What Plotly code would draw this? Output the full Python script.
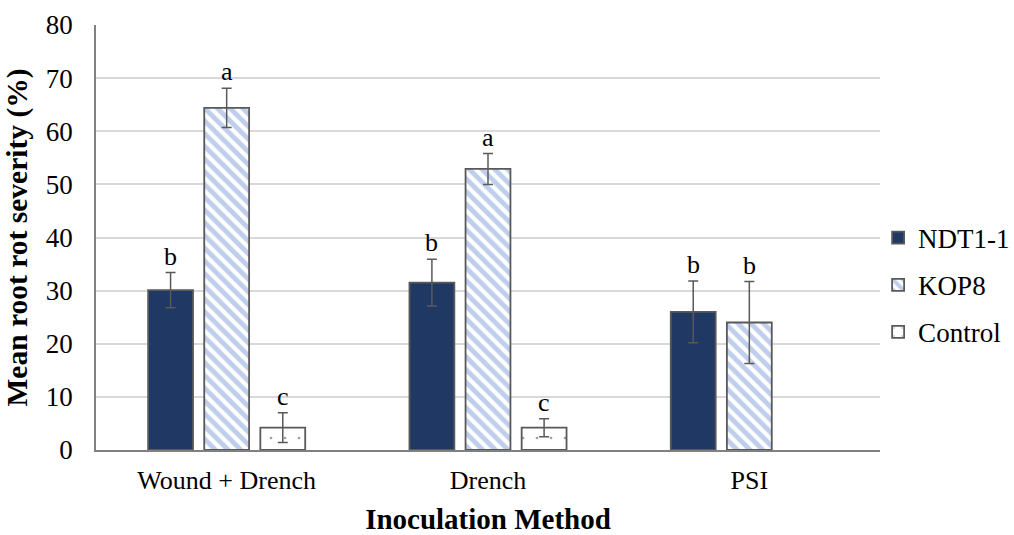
import plotly.graph_objects as go

categories = ["Wound + Drench", "Drench", "PSI"]
ndt_vals = [30.1, 31.5, 26.0]
ndt_err = [3.3, 4.4, 5.8]
kop_vals = [64.4, 52.9, 24.0]
kop_err = [3.7, 2.9, 7.7]
ctrl_vals = [4.2, 4.2, None]
ctrl_err = [2.8, 1.7, None]
ndt_letters = ["b", "b", "b"]
kop_letters = ["a", "a", "b"]
ctrl_letters = ["c", "c", None]

font_family = "Liberation Serif"
err_style = dict(type="data", thickness=1.5, width=5, color="#595959")
line_style = dict(color="#595959", width=1.8)

W, H = 1014, 535
ML, MR, MT, MB = 96, 134, 25, 85
BARGAP, BARGROUPGAP = 0.356, 0.2

fig = go.Figure()
fig.add_trace(go.Bar(
    name="NDT1-1", x=categories, y=ndt_vals, legendgroup="g1",
    marker=dict(color="#203864", line=line_style),
    error_y=dict(array=ndt_err, **err_style),
))
fig.add_trace(go.Bar(
    name="KOP8", x=categories, y=kop_vals, legendgroup="g2",
    marker=dict(color="white", line=line_style,
                pattern=dict(shape="\\", fgcolor="#7F9ED8", bgcolor="white",
                             size=9, solidity=0.55, fillmode="overlay")),
    error_y=dict(array=kop_err, **err_style),
))
fig.add_trace(go.Bar(
    name="Control", x=categories, y=ctrl_vals, legendgroup="g3",
    marker=dict(color="white", line=line_style,
                pattern=dict(shape=".", fgcolor="#404040", bgcolor="white",
                             size=14, solidity=0.03, fillmode="overlay")),
    error_y=dict(array=ctrl_err, **err_style),
))

cat_w = (W - ML - MR) / len(categories)
slot = cat_w * (1 - BARGAP) / 3
for letters, vals, errs, shift in [
    (ndt_letters, ndt_vals, ndt_err, -slot),
    (kop_letters, kop_vals, kop_err, 0),
    (ctrl_letters, ctrl_vals, ctrl_err, slot),
]:
    for c, l, v, e in zip(categories, letters, vals, errs):
        if l is None:
            continue
        fig.add_annotation(x=c, y=v + e, text=l, showarrow=False,
                           xshift=shift, yshift=0, yanchor="bottom",
                           font=dict(family=font_family, size=26, color="black"))

fig.update_layout(
    width=W, height=H,
    margin=dict(l=ML, r=MR, t=MT, b=MB, autoexpand=False),
    paper_bgcolor="white", plot_bgcolor="white",
    barmode="group", bargap=BARGAP, bargroupgap=BARGROUPGAP,
    font=dict(family=font_family, color="black", size=26),
    legend=dict(xref="container", yref="container", x=0.866, y=0.467,
                yanchor="middle", xanchor="left",
                font=dict(size=27, family=font_family, color="black"),
                tracegroupgap=9, itemwidth=30, bgcolor="rgba(0,0,0,0)"),
    showlegend=True,
)
fig.update_xaxes(
    automargin=False,
    title=dict(text="<b>Inoculation Method</b>", font=dict(size=29, family=font_family), standoff=18),
    showline=True, linecolor="#808080", linewidth=1.5,
    tickfont=dict(size=26, family=font_family), ticklabelstandoff=6,
)
fig.update_yaxes(
    automargin=False,
    title=dict(text="<b>Mean root rot severity (%)</b>", font=dict(size=29.5, family=font_family), standoff=10),
    range=[0, 80], dtick=10, showgrid=True, gridcolor="#D9D9D9", gridwidth=1.5,
    showline=True, linecolor="#808080", linewidth=1.5, zeroline=False,
    tickfont=dict(size=27, family=font_family), ticks="", ticklen=0, ticklabelstandoff=16,
)

fig.write_html("out.html")
